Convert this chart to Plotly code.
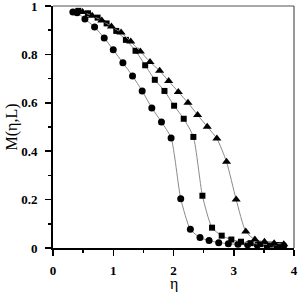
import plotly.graph_objects as go

# Circles
eta_c = [0.33, 0.40, 0.53, 0.69, 0.85, 1.00, 1.16, 1.32, 1.48, 1.64, 1.80, 1.96,
         2.12, 2.28, 2.44, 2.59, 2.75, 2.91, 3.07, 3.23, 3.39, 3.55, 3.71, 3.83]
m_c = [0.975, 0.972, 0.946, 0.913, 0.868, 0.819, 0.765, 0.711, 0.649, 0.579, 0.521, 0.455,
       0.204, 0.077, 0.043, 0.031, 0.022, 0.018, 0.015, 0.013, 0.012, 0.011, 0.010, 0.009]

# Squares
eta_s = [0.42, 0.58, 0.74, 0.89, 1.05, 1.21, 1.37, 1.53, 1.69, 1.85, 2.01, 2.17,
         2.33, 2.48, 2.64, 2.80, 2.96, 3.12, 3.28, 3.44, 3.60, 3.76]
m_s = [0.980, 0.970, 0.952, 0.928, 0.897, 0.860, 0.815, 0.755, 0.695, 0.649, 0.588, 0.534,
       0.459, 0.216, 0.084, 0.051, 0.035, 0.026, 0.020, 0.016, 0.014, 0.012]

# Triangles
eta_t = [0.49, 0.65, 0.81, 0.97, 1.13, 1.29, 1.45, 1.61, 1.77, 1.92, 2.08, 2.24,
         2.40, 2.56, 2.72, 2.88, 3.04, 3.20, 3.35, 3.51, 3.67, 3.83]
m_t = [0.975, 0.960, 0.940, 0.915, 0.890, 0.853, 0.812, 0.769, 0.732, 0.690, 0.645, 0.600,
       0.550, 0.501, 0.452, 0.356, 0.200, 0.068, 0.035, 0.026, 0.020, 0.016]

x_ticks = [0, 1, 2, 3, 4]
y_ticks = [0, 0.2, 0.4, 0.6, 0.8, 1]
y_labels = ["0", "0.2", "0.4", "0.6", "0.8", "1"]

fig = go.Figure()
line = dict(color="#8a8a8a", width=1, shape="spline", smoothing=0.6)
for xs, ys, sym, sz in [(eta_c, m_c, "circle", 7), (eta_s, m_s, "square", 6),
                        (eta_t, m_t, "triangle-up", 8)]:
    fig.add_trace(go.Scatter(x=xs, y=ys, mode="lines+markers", line=line,
                             marker=dict(symbol=sym, size=sz, color="black"),
                             cliponaxis=False, showlegend=False))

serif = "Liberation Serif, Times New Roman, serif"
axis_font = dict(family=serif, size=13, color="black", weight="bold")
fig.update_layout(
    width=300, height=292,
    margin=dict(l=53, r=6, t=6, b=44, autoexpand=False),
    paper_bgcolor="white", plot_bgcolor="white",
    xaxis=dict(range=[0, 4], tickvals=x_ticks, ticktext=[str(v) for v in x_ticks],
               automargin=False, ticklabeloverflow="allow",
               showgrid=False, zeroline=False, showline=True, linecolor="black", linewidth=2,
               ticks="outside", ticklen=6, tickwidth=1.5, tickcolor="black",
               minor=dict(ticks="outside", dtick=0.5, ticklen=3, tickwidth=1.5, tickcolor="black"),
               tickfont=axis_font, ticklabelstandoff=3),
    yaxis=dict(range=[0, 1], tickvals=y_ticks, ticktext=y_labels,
               automargin=False, ticklabeloverflow="allow",
               showgrid=False, zeroline=False, showline=True, linecolor="black", linewidth=2,
               ticks="outside", ticklen=6, tickwidth=1.5, tickcolor="black",
               minor=dict(ticks="outside", dtick=0.1, ticklen=3, tickwidth=1.5, tickcolor="black"),
               tickfont=axis_font, ticklabelstandoff=5,
               title=dict(text="M(η,L)", font=dict(family=serif, size=16, color="black"),
                          standoff=0)),
    annotations=[
        dict(text="η", xref="paper", yref="paper", x=0.5, y=0, xanchor="center",
             yanchor="middle", yshift=-36, showarrow=False,
             font=dict(family=serif, size=16, color="black")),
    ],
    shapes=[
        dict(type="line", xref="paper", yref="paper", x0=0, x1=1, y0=1, y1=1,
             line=dict(color="#555555", width=1.2)),
        dict(type="line", xref="paper", yref="paper", x0=1, x1=1, y0=0, y1=1,
             line=dict(color="#555555", width=1.2)),
    ],
)

fig.write_html("out.html", config={"displayModeBar": False, "staticPlot": True},
               post_script="document.body.style.margin='0';document.body.style.overflow='hidden';")
